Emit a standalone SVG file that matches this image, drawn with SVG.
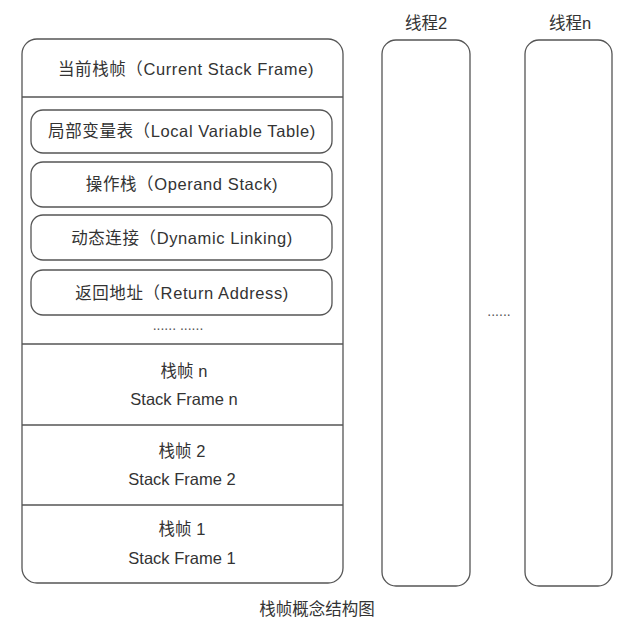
<svg xmlns="http://www.w3.org/2000/svg" width="640" height="632" viewBox="0 0 640 632">
  <style>
    .box { fill: #fff; stroke: #555; stroke-width: 1.3; }
    .line { stroke: #555; stroke-width: 1.3; fill: none; }
    .t { font-family: "Liberation Sans", "Noto Sans CJK SC", sans-serif; font-size: 16.5px; fill: #333; text-anchor: middle; }
    .wide { letter-spacing: 0.6px; }
    .dots { font-family: "Liberation Sans", sans-serif; font-size: 14px; fill: #555; text-anchor: middle; }
  </style>
  <rect width="640" height="632" fill="#fff"/>

  <!-- current thread stack -->
  <g id="thread1">
    <rect class="box" x="22" y="39" width="321" height="544" rx="15"/>
    <line class="line" x1="22" y1="97" x2="343" y2="97"/>
    <line class="line" x1="22" y1="344" x2="343" y2="344"/>
    <line class="line" x1="22" y1="425" x2="343" y2="425"/>
    <line class="line" x1="22" y1="505" x2="343" y2="505"/>
  </g>

  <g id="current-frame">
    <text class="t wide" x="186" y="75">当前栈帧（Current Stack Frame)</text>
  </g>

  <g id="local-variable-table">
    <rect class="box" x="31" y="110" width="301" height="43" rx="12"/>
    <text class="t wide" x="182" y="137">局部变量表（Local Variable Table)</text>
  </g>
  <g id="operand-stack">
    <rect class="box" x="31" y="162" width="301" height="45" rx="12"/>
    <text class="t wide" x="182" y="190">操作栈（Operand Stack)</text>
  </g>
  <g id="dynamic-linking">
    <rect class="box" x="31" y="215" width="301" height="45" rx="12"/>
    <text class="t wide" x="182" y="244">动态连接（Dynamic Linking)</text>
  </g>
  <g id="return-address">
    <rect class="box" x="31" y="270" width="301" height="45" rx="12"/>
    <text class="t wide" x="182" y="299">返回地址（Return Address)</text>
  </g>
  <text class="dots" x="178" y="330">......   ......</text>

  <g id="frame-n">
    <text class="t" x="184" y="377">栈帧 n</text>
    <text class="t" x="184" y="405">Stack Frame n</text>
  </g>
  <g id="frame-2">
    <text class="t" x="182" y="457">栈帧 2</text>
    <text class="t" x="182" y="485">Stack Frame 2</text>
  </g>
  <g id="frame-1">
    <text class="t" x="182" y="535">栈帧 1</text>
    <text class="t" x="182" y="564">Stack Frame 1</text>
  </g>

  <!-- other threads -->
  <g id="thread2">
    <text class="t" x="426" y="29">线程2</text>
    <rect class="box" x="382" y="40" width="88" height="546" rx="14"/>
  </g>
  <text class="dots" x="499" y="316">......</text>
  <g id="threadn">
    <text class="t" x="570" y="29">线程n</text>
    <rect class="box" x="525" y="40" width="87" height="546" rx="14"/>
  </g>

  <text class="t" x="317" y="615">栈帧概念结构图</text>
</svg>
